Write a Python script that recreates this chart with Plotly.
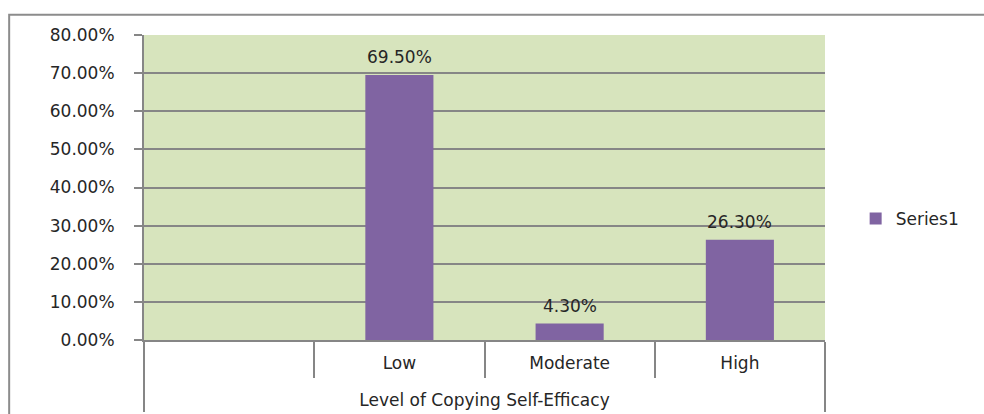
import plotly.graph_objects as go

group_labels = ["Level of Copying Self-Efficacy"] * 4
level_labels = [" <br> ", "Low", "Moderate", "High"]
values = [None, 0.695, 0.043, 0.263]
series_name = "Series1"
y_ticks = [0, 0.1, 0.2, 0.3, 0.4, 0.5, 0.6, 0.7, 0.8]

FONT = "DejaVu Sans"
GRAY = "#868686"
TXT = "#262626"

fig = go.Figure()
fig.add_trace(go.Bar(
    x=[group_labels, level_labels],
    y=values,
    name=series_name,
    marker=dict(color="#8064a2", line=dict(width=0)),
    showlegend=True,
))

annotations = []
for i, v in enumerate(values):
    if v is None:
        continue
    annotations.append(dict(
        x=i, y=v, xref="x", yref="y",
        text=f"{v*100:.2f}%", showarrow=False,
        yanchor="bottom", yshift=6,
        font=dict(family=FONT, size=17, color=TXT),
    ))

fig.update_layout(
    width=984, height=414,
    margin=dict(l=144, r=159, t=35, b=74, autoexpand=False),
    paper_bgcolor="white",
    plot_bgcolor="#d7e4bd",
    bargap=0.6,
    font=dict(family=FONT, size=17, color=TXT),
    annotations=annotations,
    legend=dict(
        x=1.045, y=0.397, xanchor="left", yanchor="middle",
        font=dict(family=FONT, size=17, color=TXT),
        bgcolor="rgba(0,0,0,0)",
        itemwidth=30,
    ),
    shapes=[dict(
        type="rect", xref="paper", yref="paper",
        x0=-0.198, x1=1.3, y0=-0.4, y1=1.066,
        line=dict(color="#8c8c8c", width=2), fillcolor="rgba(0,0,0,0)",
        layer="below",
    )],
)

fig.update_xaxes(
    type="multicategory",
    automargin=False,
    showgrid=False,
    ticks="outside", tickson="boundaries", ticklen=36, tickwidth=2, tickcolor=GRAY,
    showdividers=True, dividercolor=GRAY, dividerwidth=2,
    showline=True, linecolor=GRAY, linewidth=2,
    tickfont=dict(family=FONT, size=17, color=TXT),
    ticklabelstandoff=7,
)
fig.update_yaxes(
    automargin=False,
    range=[0, 0.8],
    tickvals=y_ticks,
    tickformat=".2%",
    showgrid=True, gridcolor=GRAY, gridwidth=2,
    ticks="outside", ticklen=8, tickwidth=2, tickcolor=GRAY,
    showline=True, linecolor=GRAY, linewidth=2,
    zeroline=False,
    tickfont=dict(family=FONT, size=17, color=TXT),
    ticklabelstandoff=16,
)

fig.write_html("out.html")
